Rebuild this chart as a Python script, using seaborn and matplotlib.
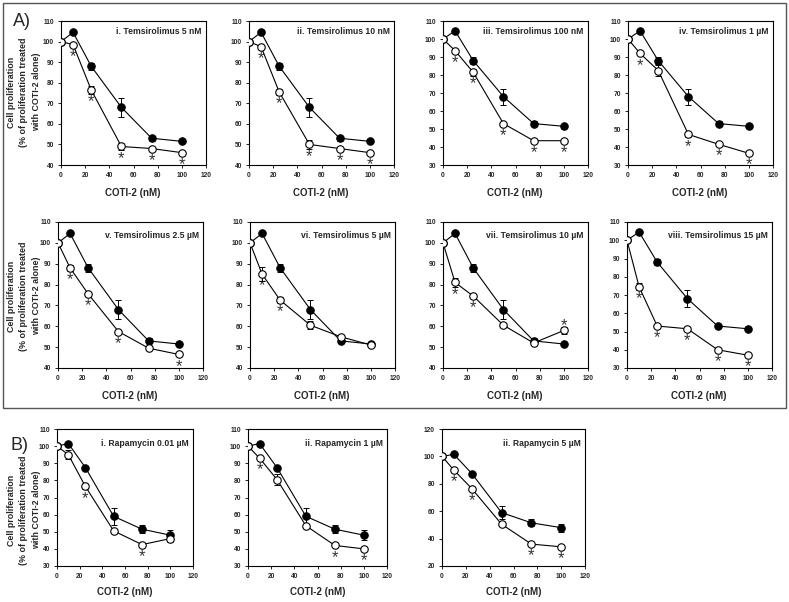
import matplotlib
matplotlib.use('Agg')
import matplotlib.pyplot as plt
import seaborn as sns
import pandas as pd
from matplotlib.patches import Rectangle

# COTI-2 concentrations (nM)
coti_nm = [0, 10, 25, 50, 75, 100]

# COTI-2 alone (filled circles)
tem_ctrl = [100, 104.5, 88, 68, 53, 51.5]
tem_ctrl_err = [0, 0.8, 1.8, 4.5, 1.2, 1.0]
rapa_ctrl = [100, 101.5, 87.5, 59, 51.5, 48]
rapa_ctrl_err = [0, 1.2, 0.8, 5.0, 2.5, 3.0]

# COTI-2 + Temsirolimus (open circles)
tem_titles = ['i. Temsirolimus 5 nM', 'ii. Temsirolimus 10 nM',
              'iii. Temsirolimus 100 nM', 'iv. Temsirolimus 1 \u00b5M',
              'v. Temsirolimus 2.5 \u00b5M', 'vi. Temsirolimus 5 \u00b5M',
              'vii. Temsirolimus 10 \u00b5M', 'viii. Temsirolimus 15 \u00b5M']
tem_combo = [
    [100, 98.5, 76.5, 49, 48, 46],
    [100, 97.5, 75.5, 50, 48, 46],
    [100, 93.5, 81.5, 53, 43.5, 43.5],
    [100, 92, 82.5, 47, 41.5, 36.5],
    [100, 88, 75.5, 57.5, 49.5, 46.5],
    [100, 85, 72.5, 60.5, 55, 51],
    [100, 81, 74.5, 60.5, 52, 58],
    [100, 74.5, 53, 51.5, 40, 37],
]
tem_combo_err = [
    [0, 1.0, 2.0, 1.5, 0.8, 0.8],
    [0, 1.0, 1.5, 2.0, 0.8, 0.8],
    [0, 1.0, 1.8, 0.8, 0.8, 0.8],
    [0, 1.0, 3.0, 1.5, 0.8, 0.8],
    [0, 1.5, 0.8, 0.8, 0.8, 0.8],
    [0, 3.5, 1.5, 2.0, 0.8, 0.8],
    [0, 2.0, 0.8, 0.8, 0.8, 1.5],
    [0, 2.0, 0.8, 1.0, 0.8, 0.8],
]
tem_stars = [
    [10, 25, 50, 75, 100],
    [10, 25, 50, 75, 100],
    [10, 25, 50, 75, 100],
    [10, 50, 75, 100],
    [10, 25, 50, 100],
    [10, 25],
    [10, 25],
    [10, 25, 50, 75, 100],
]
tem_stars_above = [[], [], [], [], [], [], [100], []]
tem_ylims = [(40, 110), (40, 110), (30, 110), (30, 110),
             (40, 110), (40, 110), (40, 110), (30, 110)]

# COTI-2 + Rapamycin (open circles)
rapa_titles = ['i. Rapamycin 0.01 \u00b5M', 'ii. Rapamycin 1 \u00b5M',
               'ii. Rapamycin 5 \u00b5M']
rapa_combo = [
    [100, 95, 76.5, 50.5, 42.5, 46],
    [100, 93, 80.5, 53.5, 42, 40],
    [100, 90, 76.5, 50.5, 36, 34],
]
rapa_combo_err = [
    [0, 2.5, 1.5, 0.8, 0.8, 2.0],
    [0, 0.8, 3.0, 0.8, 0.8, 0.8],
    [0, 0.8, 0.8, 0.8, 0.8, 0.8],
]
rapa_stars = [[25, 75], [10, 75, 100], [10, 25, 75, 100]]
rapa_ylims = [(30, 110), (30, 110), (20, 120)]
rapa_ystep = [10, 10, 20]

W, H = 789, 602
FONT = 'Liberation Sans'
ylabel_txt = 'Cell proliferation\n(% of proliferation treated\nwith COTI-2 alone)'

sns.set_theme(style='ticks')
plt.rcParams['font.family'] = [FONT, 'DejaVu Sans']
plt.rcParams['font.weight'] = 'bold'

fig = plt.figure(figsize=(W / 100, H / 100), dpi=100)


def add_ax(left, top, width, height):
    return fig.add_axes([left / W, 1 - (top + height) / H, width / W, height / H])


def draw_panel(ax, ctrl, ctrl_err, combo, combo_err, title, ylim, ystep,
               stars, stars_above, title_y):
    d_ctrl = pd.DataFrame({'coti': coti_nm, 'pct': ctrl})
    d_combo = pd.DataFrame({'coti': coti_nm, 'pct': combo})
    ax.errorbar(coti_nm, ctrl, yerr=ctrl_err, fmt='none', ecolor='black',
                elinewidth=0.7, capsize=2.2, capthick=0.7, zorder=2)
    sns.lineplot(data=d_ctrl, x='coti', y='pct', ax=ax, color='black',
                 linewidth=0.8, marker='o', markersize=5.4,
                 markerfacecolor='black', markeredgecolor='black', zorder=3)
    ax.errorbar(coti_nm, combo, yerr=combo_err, fmt='none', ecolor='black',
                elinewidth=0.7, capsize=2.2, capthick=0.7, zorder=4)
    sns.lineplot(data=d_combo, x='coti', y='pct', ax=ax, color='black',
                 linewidth=0.8, marker='o', markersize=5.4,
                 markerfacecolor='white', markeredgecolor='black',
                 markeredgewidth=0.8, zorder=5)
    for xs in stars:
        yv = combo[coti_nm.index(xs)]
        ax.annotate('*', (xs, yv), xytext=(0, -8.5), textcoords='offset points',
                    ha='center', va='center', fontsize=12, fontweight='normal',
                    color='#333333')
    for xs in stars_above:
        yv = combo[coti_nm.index(xs)]
        ax.annotate('*', (xs, yv), xytext=(0, 3.5), textcoords='offset points',
                    ha='center', va='center', fontsize=12, fontweight='normal',
                    color='#333333')
    ax.set_xlim(0, 120)
    ax.set_ylim(*ylim)
    ax.set_xticks(range(0, 121, 20))
    ax.set_yticks(range(ylim[0], ylim[1] + 1, ystep))
    ax.tick_params(direction='out', length=2.5, width=0.6, labelsize=4.8,
                   pad=2.5, color='black')
    for lab in ax.get_xticklabels() + ax.get_yticklabels():
        lab.set_fontweight('bold')
    for sp in ax.spines.values():
        sp.set_visible(True)
        sp.set_linewidth(0.8)
        sp.set_color('black')
    ax.set_xlabel('')
    ax.set_ylabel('')
    ax.text(0.97, title_y, title, transform=ax.transAxes, ha='right',
            va='center', fontsize=6.2, fontweight='bold')


# Panel A, two rows of four
row_tops = [21, 222]
row_h = [144, 146]
lefts = [[61, 249, 443, 628], [58, 250, 443, 627]]
for i in range(8):
    r, c = divmod(i, 4)
    ax = add_ax(lefts[r][c], row_tops[r], 145, row_h[r])
    draw_panel(ax, tem_ctrl, tem_ctrl_err, tem_combo[i], tem_combo_err[i],
               tem_titles[i], tem_ylims[i], 10, tem_stars[i],
               tem_stars_above[i], 0.93 if r == 0 else 0.905)
    cx = (lefts[r][c] + 72) / W
    fig.text(cx, 1 - (row_tops[r] + row_h[r] + 28) / H, 'COTI-2 (nM)',
             ha='center', va='center', fontsize=7, fontweight='bold')

# Panel B
b_lefts = [57, 248, 442]
b_widths = [136, 139, 143]
for i in range(3):
    ax = add_ax(b_lefts[i], 429, b_widths[i], 137)
    draw_panel(ax, rapa_ctrl, rapa_ctrl_err, rapa_combo[i],
               rapa_combo_err[i], rapa_titles[i], rapa_ylims[i],
               rapa_ystep[i], rapa_stars[i], [], 0.895)
    cx = (b_lefts[i] + b_widths[i] / 2) / W
    fig.text(cx, 1 - 592 / H, 'COTI-2 (nM)', ha='center', va='center',
             fontsize=7, fontweight='bold')

# y axis labels
for ycen in [92, 296, 510]:
    fig.text(24 / W, 1 - ycen / H, ylabel_txt, rotation=90, ha='center',
             va='center', multialignment='center', fontsize=6.4,
             fontweight='bold', linespacing=1.45)

fig.text(22 / W, 1 - 21 / H, 'A)', ha='center', va='center', fontsize=13,
         fontweight='normal')
fig.text(19 / W, 1 - 446 / H, 'B)', ha='center', va='center', fontsize=13,
         fontweight='normal')

fig.patches.append(Rectangle((3 / W, 1 - 408 / H), 783 / W, 405 / H,
                             transform=fig.transFigure, fill=False,
                             edgecolor='#555555', linewidth=1.0))

fig.savefig('out.png', dpi=100)
